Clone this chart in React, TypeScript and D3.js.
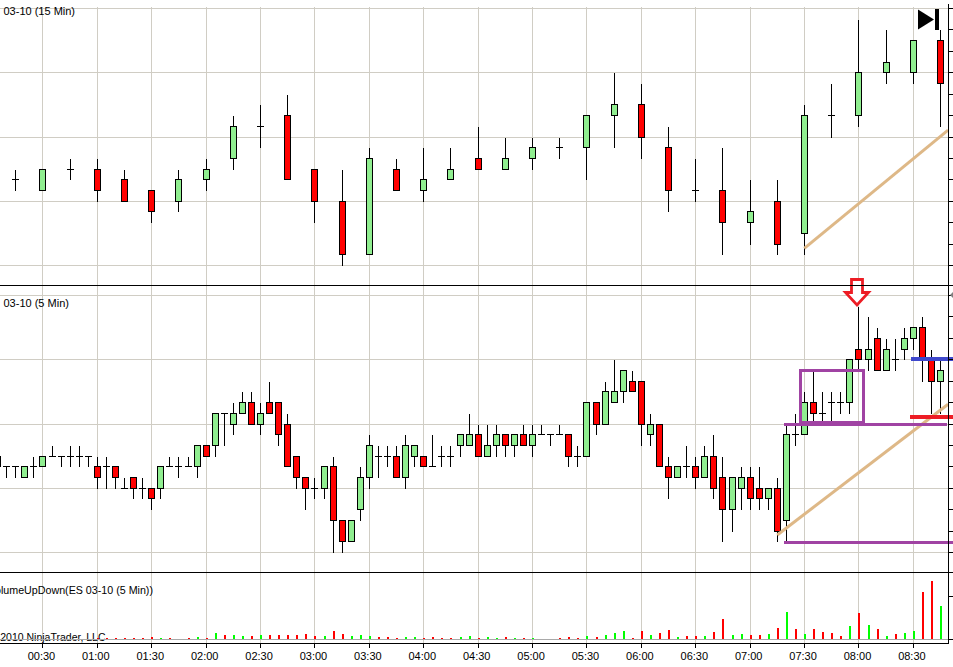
import { range, scaleLinear } from "d3";
import React from "react";

const width = 953;
const height = 667;

// [open, high, low, close] in price steps above the lowest grid line of each pane
// 15 min bars start at 00:15
const fifteenMinBars = [
  [8, 9, 7, 8], [7, 9, 7, 9], [9, 10, 8, 9], [9, 10, 6, 7], [8, 9, 6, 6],
  [7, 7, 4, 5], [6, 9, 5, 8], [8, 10, 7, 9], [10, 14, 9, 13], [13, 15, 11, 13],
  [14, 16, 8, 8], [9, 9, 4, 6], [6, 9, 0, 1], [1, 11, 1, 10], [9, 10, 7, 7],
  [7, 11, 6, 8], [8, 11, 8, 9], [10, 13, 9, 9], [9, 12, 9, 10], [10, 12, 9, 11],
  [11, 12, 10, 11], [11, 14, 8, 14], [14, 18, 11, 15], [15, 17, 10, 12], [11, 13, 5, 7],
  [7, 10, 6, 7], [7, 11, 1, 4], [4, 8, 2, 5], [6, 8, 1, 2], [3, 15, 1, 14],
  [14, 17, 12, 14], [14, 23, 13, 18], [18, 22, 17, 19], [18, 21, 17, 21], [21, 22, 13, 17],
];

// 5 min bars start at 00:05
const fiveMinBars = [
  [8, 9, 8, 9], [8, 8, 7, 8], [8, 8, 7, 8], [7, 8, 7, 8], [8, 9, 7, 8],
  [8, 9, 8, 9], [9, 10, 9, 9], [9, 9, 8, 9], [9, 10, 8, 9], [9, 10, 8, 9],
  [9, 9, 8, 9], [8, 9, 6, 7], [8, 9, 6, 8], [8, 8, 6, 7], [6, 7, 6, 6],
  [7, 7, 5, 6], [6, 7, 5, 6], [6, 6, 4, 5], [6, 8, 5, 8], [8, 9, 8, 8],
  [8, 9, 7, 8], [8, 9, 8, 8], [8, 10, 7, 10], [10, 10, 9, 9], [10, 13, 9, 13],
  [13, 13, 10, 13], [12, 14, 11, 13], [13, 15, 13, 14], [14, 15, 12, 12], [12, 14, 11, 13],
  [14, 16, 13, 13], [14, 14, 10, 11], [12, 13, 8, 8], [9, 9, 6, 7], [7, 7, 4, 6],
  [6, 7, 5, 6], [6, 8, 5, 8], [8, 9, 0, 3], [3, 3, 0, 1], [1, 3, 1, 3],
  [4, 8, 3, 7], [7, 11, 6, 10], [9, 10, 7, 9], [9, 10, 8, 9], [9, 10, 7, 7],
  [7, 11, 6, 10], [9, 10, 8, 10], [9, 9, 8, 8], [8, 11, 8, 8], [9, 10, 8, 9],
  [9, 10, 8, 9], [10, 11, 9, 11], [10, 13, 10, 11], [11, 12, 9, 9], [9, 12, 9, 10],
  [10, 12, 9, 11], [11, 11, 9, 10], [10, 11, 9, 11], [11, 12, 10, 10], [10, 12, 9, 11],
  [11, 12, 11, 11], [11, 11, 10, 11], [11, 12, 11, 11], [11, 11, 8, 9], [9, 10, 8, 9],
  [9, 14, 9, 14], [14, 14, 11, 12], [12, 16, 12, 15], [14, 18, 14, 15], [15, 17, 14, 17],
  [16, 17, 15, 15], [16, 16, 10, 12], [11, 13, 10, 12], [12, 12, 8, 8], [8, 9, 5, 7],
  [7, 8, 7, 8], [8, 10, 7, 8], [8, 9, 6, 7], [7, 10, 7, 9], [9, 11, 5, 6],
  [7, 9, 1, 4], [4, 7, 2, 7], [6, 8, 4, 7], [7, 8, 4, 5], [6, 8, 4, 5],
  [5, 6, 4, 6], [6, 7, 1, 2], [3, 12, 1, 11], [11, 13, 10, 11], [11, 15, 11, 14],
  [14, 17, 12, 13], [13, 15, 12, 13], [14, 15, 12, 14], [14, 15, 13, 14], [14, 18, 13, 18],
  [19, 23, 17, 18], [18, 22, 17, 19], [20, 21, 17, 17], [17, 20, 17, 19], [18, 20, 17, 18],
  [19, 21, 18, 20], [20, 21, 19, 21], [21, 22, 16, 18], [18, 19, 13, 16], [16, 18, 13, 17],
];

// signed: up volume above zero, down volume below zero, from 00:05
const volume = [
  0, 0, 0, 0, 0, 0, 0, 0, 0, 0, 0,
  -1, -1, -1, -1, -1, -1, -2, 1, -1, 0, -1, 2, -1, 6, -4, 4, 3, -3, 4, -4, -4, -4, -4, -5, -3,
  3, -8, -5, 3, 4, 3, -2, -2, -1, 2, 2, -1, -2, -1, -1, 2, 3, -1, 2, 1, -2, 1, -1, 1,
  0, 0, -1, -2, -1, 3, -2, 4, 6, 8, -1,
  -8, 4, -6, -9, 2, -3, -3, 3, -7, -20, 4, 5, -4, -4, 5, -11, 27, -10, 5, -10, -7, -6, -3, 13,
  -26, 14, -10, 3, -5, 6, 8, -47, -58, 33,
];

const timeLabels = [
  "00:30", "01:00", "01:30", "02:00", "02:30", "03:00", "03:30", "04:00", "04:30",
  "05:00", "05:30", "06:00", "06:30", "07:00", "07:30", "08:00", "08:30",
];

// drawing tools laid on the chart, in [minutes, level]
const topTrend = [[450.1, 1.56], [529.4, 12.6]];
const bottomTrend = [[435.2, 1.59], [529.4, 13.8]];
const boxMinutes = [447.9, 482.6];
const boxLevels = [12.05, 16.97];
const upperBand = { from: 438.9, to: 528.8, level: 11.95 };
const lowerBand = { from: 438.9, to: 532, level: 0.85 };
const blueLine = { from: 509, to: 532, level: 18 };
const redLine = { from: 508.4, to: 532, level: 12.65 };

const GRID = "#d0cdc4";
const UP = "#90ee90";
const DOWN = "#ff0000";
const PURPLE = "#a043a3";
const TAN = "#deb887";

const x = scaleLinear().domain([30, 510]).range([42.45, 912.9]);
const yTop = scaleLinear().domain([0, 24]).range([265, 8]);
const yBottom = scaleLinear().domain([0, 24]).range([552, 295]);
const yVolume = scaleLinear().domain([0, 43]).range([639, 596]);

// snap to the middle of a pixel, the platform draws everything with 1px crisp lines
const snap = (v: number) => Math.round(v) + 0.5;

const Candles: React.FC<{
  bars: number[][];
  start: number;
  step: number;
  y: (v: number) => number;
}> = ({ bars, start, step, y }) => (
  <g shapeRendering="crispEdges" stroke="#000">
    {bars.map(([open, high, low, close], i) => {
      const cx = snap(x(start + i * step));
      const top = snap(y(Math.max(open, close)));
      const bottom = snap(y(Math.min(open, close)));
      return (
        <g key={i}>
          <line x1={cx} x2={cx} y1={snap(y(high))} y2={snap(y(low)) + 0.5} />
          {open === close ? (
            <line x1={cx - 3.5} x2={cx + 3.5} y1={top} y2={top} />
          ) : (
            <rect
              x={cx - 3}
              y={top}
              width={6}
              height={bottom - top}
              fill={close > open ? UP : DOWN}
            />
          )}
        </g>
      );
    })}
  </g>
);

const App: React.FC = () => {
  const minutes = timeLabels.map((_, i) => 30 + i * 30);
  const levels = range(0, 25, 6);
  const minorLevels = range(0, 25, 2);

  return (
    <svg
      width={width}
      height={height}
      style={{ position: "absolute", left: 0, top: 0, background: "#fff" }}
      fontFamily="'Liberation Sans', Arial, sans-serif"
      fontSize={11}
    >
      <g shapeRendering="crispEdges" stroke={GRID}>
        {minutes.map((m) => (
          <line key={m} x1={snap(x(m))} x2={snap(x(m))} y1={7} y2={643} />
        ))}
        {levels.map((l) => (
          <React.Fragment key={l}>
            <line x1={0} x2={948} y1={snap(yTop(l))} y2={snap(yTop(l))} />
            <line x1={0} x2={948} y1={snap(yBottom(l))} y2={snap(yBottom(l))} />
          </React.Fragment>
        ))}
      </g>

      <text x={3.5} y={15}>03-10 (15 Min)</text>
      <text x={3.5} y={307}>03-10 (5 Min)</text>
      <text x={153} y={594} textAnchor="end" fontSize={10.7}>VolumeUpDown(ES 03-10 (5 Min))</text>
      <text x={105.5} y={641} textAnchor="end" fontSize={10.5}>© 2010 NinjaTrader, LLC</text>

      <line x1={0} x2={948} y1={639.5} y2={639.5} stroke="#a9a9a9" shapeRendering="crispEdges" />
      <g shapeRendering="crispEdges">
        {volume.map((v, i) =>
          v === 0 ? null : (
            <rect
              key={i}
              x={Math.round(x(5 + i * 5))}
              y={yVolume(Math.abs(v))}
              width={2}
              height={yVolume(0) - yVolume(Math.abs(v))}
              fill={v > 0 ? "#00ff00" : DOWN}
            />
          ),
        )}
      </g>

      <Candles bars={fifteenMinBars} start={15} step={15} y={yTop} />
      <Candles bars={fiveMinBars} start={5} step={5} y={yBottom} />

      <g stroke={TAN} strokeWidth={3}>
        <line x1={x(topTrend[0][0])} y1={yTop(topTrend[0][1])} x2={x(topTrend[1][0])} y2={yTop(topTrend[1][1])} />
        <line x1={x(bottomTrend[0][0])} y1={yBottom(bottomTrend[0][1])} x2={x(bottomTrend[1][0])} y2={yBottom(bottomTrend[1][1])} />
      </g>

      <g fill="none" strokeWidth={3} shapeRendering="crispEdges">
        <rect
          x={x(boxMinutes[0])}
          y={yBottom(boxLevels[1])}
          width={x(boxMinutes[1]) - x(boxMinutes[0])}
          height={yBottom(boxLevels[0]) - yBottom(boxLevels[1])}
          stroke={PURPLE}
        />
        {[upperBand, lowerBand].map((b) => (
          <line key={b.level} x1={x(b.from)} x2={x(b.to)} y1={yBottom(b.level)} y2={yBottom(b.level)} stroke={PURPLE} />
        ))}
        <line x1={x(blueLine.from)} x2={x(blueLine.to)} y1={yBottom(blueLine.level)} y2={yBottom(blueLine.level)} stroke="#3f48cc" strokeWidth={4} />
        <line x1={x(redLine.from)} x2={x(redLine.to)} y1={yBottom(redLine.level)} y2={yBottom(redLine.level)} stroke="#ed1c24" strokeWidth={4} />
      </g>

      {/* marker arrow above the 08:00 high */}
      <path
        d="M851.5 279.5H862.5V292.5H868.5L857 305L845.5 292.5H851.5Z"
        fill="#fff"
        stroke="#ed1c24"
        strokeWidth={2.8}
      />

      {/* go-to-end button */}
      <path d="M918 9.5L934 19.5L918 29.5Z" fill="#000" />
      <rect x={935} y={9} width={4} height={21} fill="#000" />

      <g stroke="#000" shapeRendering="crispEdges">
        <line x1={0} x2={width} y1={285.5} y2={285.5} />
        <line x1={0} x2={width} y1={572.5} y2={572.5} />
        <line x1={0} x2={948} y1={643.5} y2={643.5} />
        <line x1={948.5} x2={948.5} y1={4} y2={644} />
        {minorLevels.map((l) => (
          <React.Fragment key={l}>
            <line x1={948} x2={953} y1={snap(yTop(l))} y2={snap(yTop(l))} />
            <line x1={948} x2={953} y1={snap(yBottom(l))} y2={snap(yBottom(l))} />
          </React.Fragment>
        ))}
        {[0, 43].map((v) => (
          <line key={v} x1={948} x2={953} y1={snap(yVolume(v))} y2={snap(yVolume(v))} />
        ))}
        {minutes.map((m) => (
          <line key={m} x1={snap(x(m))} x2={snap(x(m))} y1={643} y2={648} />
        ))}
      </g>
      <path d="M950 295L953 292V298Z" fill="#808080" />

      {timeLabels.map((t, i) => (
        <text key={t} x={x(minutes[i]) - 1} y={660} textAnchor="middle">
          {t}
        </text>
      ))}
    </svg>
  );
};

export default App;
